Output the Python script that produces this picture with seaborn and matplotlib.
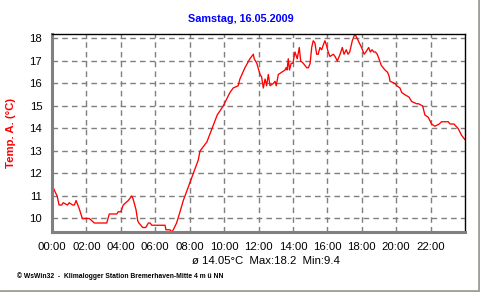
import matplotlib
matplotlib.use("Agg")
import matplotlib.pyplot as plt
from matplotlib.lines import Line2D
from matplotlib.ticker import MultipleLocator
import seaborn as sns
import pandas as pd

title = "Samstag, 16.05.2009"
ylabel = "Temp. A. (°C)"
stats_text = "ø 14.05°C  Max:18.2  Min:9.4"
footer = "© WsWin32  -  Klimalogger Station Bremerhaven-Mitte 4 m ü NN"

hours = [0.0, 0.17, 0.3, 0.41, 0.56, 0.65, 0.9, 1.0, 1.2, 1.3, 1.4, 1.5, 1.6, 1.76,
         2.17, 2.46, 3.18, 3.33, 3.76, 3.85, 4.0, 4.14, 4.43, 4.63, 4.7, 4.88, 4.98,
         5.05, 5.27, 5.45, 5.6, 5.7, 5.8, 6.0, 6.57, 6.62, 6.86, 6.95, 7.05, 7.24,
         7.44, 7.63, 7.92, 8.21, 8.5, 8.6, 9.0, 9.3, 9.6, 9.95, 10.34, 10.53, 10.82,
         10.92, 11.21, 11.5, 11.7, 11.75, 11.9, 12.09, 12.18, 12.28, 12.38, 12.47,
         12.57, 12.67, 12.86, 12.96, 13.03, 13.15, 13.35, 13.54, 13.6, 13.66, 13.73,
         13.8, 13.9, 14.0, 14.12, 14.25, 14.37, 14.45, 14.6, 14.8, 14.9, 15.0, 15.09,
         15.18, 15.28, 15.38, 15.47, 15.57, 15.67, 15.76, 15.86, 15.95, 16.05, 16.15,
         16.35, 16.45, 16.58, 16.74, 16.87, 16.97, 17.1, 17.2, 17.3, 17.45, 17.6,
         17.67, 17.8, 17.99, 18.14, 18.24, 18.4, 18.5, 18.6, 18.7, 18.8, 18.9, 19.0,
         19.14, 19.35, 19.5, 19.6, 19.64, 19.93, 20.03, 20.22, 20.32, 20.51, 20.74,
         20.9, 21.19, 21.3, 21.54, 21.67, 21.86, 22.06, 22.25, 22.5, 22.64, 23.03,
         23.13, 23.36, 23.6, 23.8, 24.0]
temps = [11.5, 11.2, 11.0, 10.6, 10.6, 10.7, 10.6, 10.7, 10.6, 10.6, 10.8, 10.6, 10.4, 10.0,
         10.0, 9.8, 9.8, 10.2, 10.2, 10.3, 10.3, 10.6, 10.8, 11.0, 10.9, 10.4, 9.9,
         9.8, 9.6, 9.6, 9.8, 9.8, 9.7, 9.7, 9.7, 9.5, 9.5, 9.4, 9.5, 9.8,
         10.3, 10.8, 11.4, 12.0, 12.6, 13.0, 13.4, 14.0, 14.6, 15.0, 15.6, 15.8, 15.9,
         16.2, 16.7, 17.1, 17.3, 17.1, 16.9, 16.4, 16.3, 15.8, 16.2, 15.9,
         16.4, 15.9, 16.0, 16.1, 15.9, 16.4, 16.5, 16.6, 16.7, 16.6, 17.1,
         16.6, 16.9, 16.9, 17.4, 17.1, 17.6, 17.0, 16.9, 16.7, 16.7, 16.9, 17.6,
         17.9, 17.8, 17.3, 17.3, 17.6, 17.5, 17.7, 17.9, 17.7, 17.4, 17.2,
         17.3, 17.2, 17.0, 17.3, 17.6, 17.3, 17.5, 17.3, 17.4, 17.9, 18.2,
         18.1, 17.9, 17.6, 17.3, 17.4, 17.6, 17.4, 17.5, 17.4, 17.4, 17.3, 17.1,
         16.8, 16.6, 16.5, 16.3, 16.1, 16.0, 15.9, 15.8, 15.6, 15.5, 15.4,
         15.2, 15.1, 15.1, 15.0, 14.6, 14.5, 14.2, 14.1, 14.2, 14.3, 14.3,
         14.2, 14.2, 14.0, 13.7, 13.5]

xtick_pos = list(range(0, 24, 2))
xtick_labels = [f"{h:02d}:00" for h in xtick_pos]
ytick_pos = list(range(10, 19))

sns.set_style("white")
plt.rcParams["font.family"] = ["Liberation Sans", "DejaVu Sans"]

df = pd.DataFrame({"hour": hours, "temp": temps})

fig = plt.figure(figsize=(4.8, 2.92), dpi=100)
ax = fig.add_axes([52/480, 1 - 232/292, (465-52)/480, (232-34)/292])

sns.lineplot(data=df, x="hour", y="temp", ax=ax, color="#ff0000", linewidth=0.95)

ax.set_xlim(0, 24)
ax.set_ylim(9.4, 18.2)
ax.set_xticks(xtick_pos)
ax.set_xticklabels(xtick_labels)
ax.set_yticks(ytick_pos)
ax.xaxis.set_minor_locator(MultipleLocator(0.5))
ax.yaxis.set_minor_locator(MultipleLocator(0.2))
ax.grid(True, which="major", color="#7f7f7f", linestyle=(0, (4, 3)), linewidth=1.0)
ax.set_xlabel("")
ax.set_ylabel(ylabel, color="#ff0000", fontsize=8.2, fontweight="bold", labelpad=10)

ax.tick_params(axis="both", which="major", labelsize=8.2, colors="#000000", length=4, width=1,
               direction="out", pad=3)
ax.tick_params(axis="both", which="major", color="#808080")
ax.tick_params(axis="x", which="minor", length=3, width=1, color="#808080", direction="out")
ax.tick_params(axis="y", which="minor", length=1.5, width=1, color="#808080", direction="out")

for side in ["top", "right"]:
    ax.spines[side].set_color("#000000")
    ax.spines[side].set_linewidth(1.0)
for side in ["left", "bottom"]:
    ax.spines[side].set_color("#808080")
    ax.spines[side].set_linewidth(2.2)

fig.text(241/480, 1 - 19.5/292, title, ha="center", va="center", color="#0000ff",
         fontsize=7.8, fontweight="bold")
fig.text(266/480, 1 - 261/292, stats_text, ha="center", va="center", color="#000000",
         fontsize=8.2)
fig.text(17/480, 1 - 276/292, footer, ha="left", va="center", color="#000000",
         fontsize=4.9, fontweight="bold")

fig.add_artist(Line2D([478.5/480, 478.5/480], [0, 1], transform=fig.transFigure,
                      color="#a0a09a", linewidth=2))
fig.add_artist(Line2D([0, 1], [1 - 290.5/292, 1 - 290.5/292], transform=fig.transFigure,
                      color="#a0a09a", linewidth=2))

fig.savefig("out.png", dpi=100, facecolor="white")
